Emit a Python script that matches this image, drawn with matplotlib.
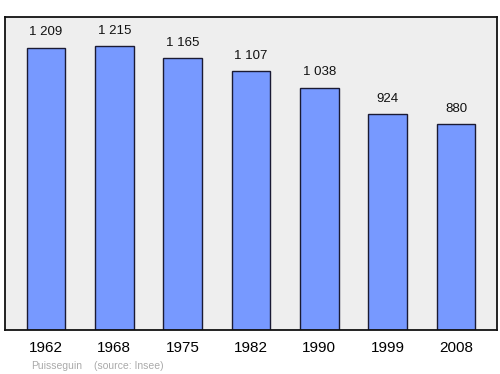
import matplotlib.pyplot as plt

years = ["1962", "1968", "1975", "1982", "1990", "1999", "2008"]
population = [1209, 1215, 1165, 1107, 1038, 924, 880]
labels = ["1 209", "1 215", "1 165", "1 107", "1 038", "924", "880"]

plt.rcParams['font.family'] = ['Liberation Sans', 'DejaVu Sans']

fig = plt.figure(figsize=(5, 3.74), dpi=100)
ax = fig.add_axes([0.01, 1 - 330 / 374, 0.984, 313 / 374])
ax.set_facecolor('#eeeeee')

x = range(len(years))
ax.bar(x, population, width=0.57, color='#7799ff', edgecolor='#1a1a33', linewidth=1)
for i, v in enumerate(population):
    ax.annotate(labels[i], (i, v), xytext=(0, 11), textcoords='offset points',
                ha='center', va='center', fontsize=9.5, color='#111111')

ax.set_xlim(-0.6, 6.6)
ax.set_ylim(0, 1340)
ax.set_yticks([])
ax.set_xticks(list(x))
ax.set_xticklabels(years, fontsize=11)
ax.tick_params(axis='x', length=0, pad=8)
for s in ax.spines.values():
    s.set_linewidth(1.3)
    s.set_color('#111111')

fig.text(31 / 500, 1 - 366 / 374, "Puisseguin", fontsize=7.5, color='#aaaaaa', va='center')
fig.text(94 / 500, 1 - 366 / 374, "(source: Insee)", fontsize=7.5, color='#aaaaaa', va='center')

fig.savefig("out.png", dpi=100)
